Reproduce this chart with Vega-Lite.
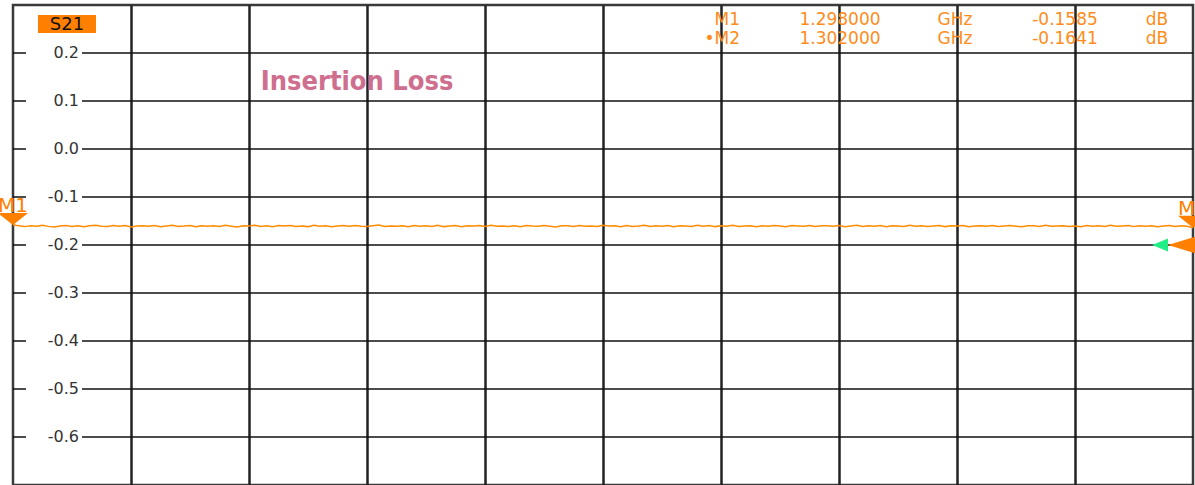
{
  "$schema": "https://vega.github.io/schema/vega-lite/v6.json",
  "width": 1180,
  "height": 480,
  "autosize": {"type": "none"},
  "padding": {"left": 13, "top": 5, "right": 2, "bottom": 0},
  "background": "white",
  "config": {"view": {"stroke": "#3a3a3a", "strokeWidth": 2.5}},
  "datasets": {
    "trace": [
      {"f":1298.00,"s":-0.1585},{"f":1298.02,"s":-0.1600},{"f":1298.04,"s":-0.1617},{"f":1298.06,"s":-0.1597},{"f":1298.08,"s":-0.1608},{"f":1298.10,"s":-0.1590},{"f":1298.12,"s":-0.1612},{"f":1298.14,"s":-0.1625},{"f":1298.16,"s":-0.1603},{"f":1298.18,"s":-0.1594},
      {"f":1298.20,"s":-0.1614},{"f":1298.22,"s":-0.1601},{"f":1298.24,"s":-0.1620},{"f":1298.26,"s":-0.1599},{"f":1298.28,"s":-0.1587},{"f":1298.30,"s":-0.1609},{"f":1298.32,"s":-0.1616},{"f":1298.34,"s":-0.1596},{"f":1298.36,"s":-0.1607},{"f":1298.38,"s":-0.1592},
      {"f":1298.40,"s":-0.1623},{"f":1298.42,"s":-0.1602},{"f":1298.44,"s":-0.1598},{"f":1298.46,"s":-0.1611},{"f":1298.48,"s":-0.1595},{"f":1298.50,"s":-0.1619},{"f":1298.52,"s":-0.1604},{"f":1298.54,"s":-0.1589},{"f":1298.56,"s":-0.1613},{"f":1298.58,"s":-0.1606},
      {"f":1298.60,"s":-0.1593},{"f":1298.62,"s":-0.1621},{"f":1298.64,"s":-0.1600},{"f":1298.66,"s":-0.1610},{"f":1298.68,"s":-0.1597},{"f":1298.70,"s":-0.1615},{"f":1298.72,"s":-0.1591},{"f":1298.74,"s":-0.1608},{"f":1298.76,"s":-0.1624},{"f":1298.78,"s":-0.1599},
      {"f":1298.80,"s":-0.1603},{"f":1298.82,"s":-0.1588},{"f":1298.84,"s":-0.1614},{"f":1298.86,"s":-0.1601},{"f":1298.88,"s":-0.1618},{"f":1298.90,"s":-0.1596},{"f":1298.92,"s":-0.1606},{"f":1298.94,"s":-0.1594},{"f":1298.96,"s":-0.1612},{"f":1298.98,"s":-0.1602},
      {"f":1299.00,"s":-0.1617},{"f":1299.02,"s":-0.1590},{"f":1299.04,"s":-0.1609},{"f":1299.06,"s":-0.1598},{"f":1299.08,"s":-0.1622},{"f":1299.10,"s":-0.1603},{"f":1299.12,"s":-0.1595},{"f":1299.14,"s":-0.1611},{"f":1299.16,"s":-0.1592},{"f":1299.18,"s":-0.1607},
      {"f":1299.20,"s":-0.1614},{"f":1299.22,"s":-0.1600},{"f":1299.24,"s":-0.1586},{"f":1299.26,"s":-0.1616},{"f":1299.28,"s":-0.1604},{"f":1299.30,"s":-0.1610},{"f":1299.32,"s":-0.1597},{"f":1299.34,"s":-0.1620},{"f":1299.36,"s":-0.1593},{"f":1299.38,"s":-0.1608},
      {"f":1299.40,"s":-0.1599},{"f":1299.42,"s":-0.1613},{"f":1299.44,"s":-0.1591},{"f":1299.46,"s":-0.1617},{"f":1299.48,"s":-0.1602},{"f":1299.50,"s":-0.1596},{"f":1299.52,"s":-0.1621},{"f":1299.54,"s":-0.1601},{"f":1299.56,"s":-0.1606},{"f":1299.58,"s":-0.1594},
      {"f":1299.60,"s":-0.1612},{"f":1299.62,"s":-0.1589},{"f":1299.64,"s":-0.1609},{"f":1299.66,"s":-0.1603},{"f":1299.68,"s":-0.1615},{"f":1299.70,"s":-0.1598},{"f":1299.72,"s":-0.1619},{"f":1299.74,"s":-0.1593},{"f":1299.76,"s":-0.1604},{"f":1299.78,"s":-0.1611},
      {"f":1299.80,"s":-0.1595},{"f":1299.82,"s":-0.1607},{"f":1299.84,"s":-0.1623},{"f":1299.86,"s":-0.1597},{"f":1299.88,"s":-0.1600},{"f":1299.90,"s":-0.1614},{"f":1299.92,"s":-0.1592},{"f":1299.94,"s":-0.1610},{"f":1299.96,"s":-0.1602},{"f":1299.98,"s":-0.1616},
      {"f":1300.00,"s":-0.1590},{"f":1300.02,"s":-0.1606},{"f":1300.04,"s":-0.1599},{"f":1300.06,"s":-0.1618},{"f":1300.08,"s":-0.1596},{"f":1300.10,"s":-0.1612},{"f":1300.12,"s":-0.1603},{"f":1300.14,"s":-0.1588},{"f":1300.16,"s":-0.1615},{"f":1300.18,"s":-0.1601},
      {"f":1300.20,"s":-0.1608},{"f":1300.22,"s":-0.1594},{"f":1300.24,"s":-0.1620},{"f":1300.26,"s":-0.1598},{"f":1300.28,"s":-0.1604},{"f":1300.30,"s":-0.1613},{"f":1300.32,"s":-0.1591},{"f":1300.34,"s":-0.1609},{"f":1300.36,"s":-0.1595},{"f":1300.38,"s":-0.1617},
      {"f":1300.40,"s":-0.1600},{"f":1300.42,"s":-0.1607},{"f":1300.44,"s":-0.1589},{"f":1300.46,"s":-0.1614},{"f":1300.48,"s":-0.1602},{"f":1300.50,"s":-0.1597},{"f":1300.52,"s":-0.1619},{"f":1300.54,"s":-0.1599},{"f":1300.56,"s":-0.1611},{"f":1300.58,"s":-0.1593},
      {"f":1300.60,"s":-0.1606},{"f":1300.62,"s":-0.1622},{"f":1300.64,"s":-0.1596},{"f":1300.66,"s":-0.1603},{"f":1300.68,"s":-0.1610},{"f":1300.70,"s":-0.1592},{"f":1300.72,"s":-0.1616},{"f":1300.74,"s":-0.1601},{"f":1300.76,"s":-0.1598},{"f":1300.78,"s":-0.1608},
      {"f":1300.80,"s":-0.1595},{"f":1300.82,"s":-0.1618},{"f":1300.84,"s":-0.1604},{"f":1300.86,"s":-0.1590},{"f":1300.88,"s":-0.1613},{"f":1300.90,"s":-0.1600},{"f":1300.92,"s":-0.1607},{"f":1300.94,"s":-0.1594},{"f":1300.96,"s":-0.1621},{"f":1300.98,"s":-0.1599},
      {"f":1301.00,"s":-0.1602},{"f":1301.02,"s":-0.1615},{"f":1301.04,"s":-0.1591},{"f":1301.06,"s":-0.1609},{"f":1301.08,"s":-0.1597},{"f":1301.10,"s":-0.1612},{"f":1301.12,"s":-0.1603},{"f":1301.14,"s":-0.1593},{"f":1301.16,"s":-0.1617},{"f":1301.18,"s":-0.1600},
      {"f":1301.20,"s":-0.1606},{"f":1301.22,"s":-0.1596},{"f":1301.24,"s":-0.1620},{"f":1301.26,"s":-0.1602},{"f":1301.28,"s":-0.1598},{"f":1301.30,"s":-0.1611},{"f":1301.32,"s":-0.1592},{"f":1301.34,"s":-0.1614},{"f":1301.36,"s":-0.1604},{"f":1301.38,"s":-0.1595},
      {"f":1301.40,"s":-0.1608},{"f":1301.42,"s":-0.1619},{"f":1301.44,"s":-0.1599},{"f":1301.46,"s":-0.1601},{"f":1301.48,"s":-0.1616},{"f":1301.50,"s":-0.1589},{"f":1301.52,"s":-0.1610},{"f":1301.54,"s":-0.1603},{"f":1301.56,"s":-0.1597},{"f":1301.58,"s":-0.1615},
      {"f":1301.60,"s":-0.1602},{"f":1301.62,"s":-0.1618},{"f":1301.64,"s":-0.1594},{"f":1301.66,"s":-0.1607},{"f":1301.68,"s":-0.1599},{"f":1301.70,"s":-0.1613},{"f":1301.72,"s":-0.1591},{"f":1301.74,"s":-0.1611},{"f":1301.76,"s":-0.1604},{"f":1301.78,"s":-0.1596},
      {"f":1301.80,"s":-0.1617},{"f":1301.82,"s":-0.1601},{"f":1301.84,"s":-0.1609},{"f":1301.86,"s":-0.1598},{"f":1301.88,"s":-0.1620},{"f":1301.90,"s":-0.1603},{"f":1301.92,"s":-0.1595},{"f":1301.94,"s":-0.1614},{"f":1301.96,"s":-0.1600},{"f":1301.98,"s":-0.1608},
      {"f":1302.00,"s":-0.1641}
    ],
    "yticks": [
      {"v":0.2,"lab":"0.2"},{"v":0.1,"lab":"0.1"},{"v":0.0,"lab":"0.0"},{"v":-0.1,"lab":"-0.1"},{"v":-0.2,"lab":"-0.2"},
      {"v":-0.3,"lab":"-0.3"},{"v":-0.4,"lab":"-0.4"},{"v":-0.5,"lab":"-0.5"},{"v":-0.6,"lab":"-0.6"}
    ],
    "markers": [
      {"mk":"M1","tag":"M1","f":1298,"s":-0.1585,"freq":"1.298000","funit":"GHz","val":"-0.1585","vunit":"dB"},
      {"mk":"M2","tag":"•M2","f":1302,"s":-0.1641,"freq":"1.302000","funit":"GHz","val":"-0.1641","vunit":"dB"}
    ]
  },
  "layer": [
    {
      "data": {"name": "yticks"},
      "mark": {"type": "rule", "color": "#111", "strokeWidth": 1.5},
      "encoding": {
        "y": {"field": "v", "type": "quantitative", "scale": {"domain": [-0.7, 0.3], "nice": false, "zero": false}, "axis": null},
        "x": {"datum": 1298, "type": "quantitative", "scale": {"domain": [1298, 1302], "nice": false, "zero": false}},
        "x2": {"datum": 1298.0440}
      }
    },
    {
      "data": {"name": "yticks"},
      "mark": {"type": "rule", "color": "#111", "strokeWidth": 1.5},
      "encoding": {
        "y": {"field": "v", "type": "quantitative"},
        "x": {"datum": 1298.2339, "type": "quantitative"},
        "x2": {"datum": 1302}
      }
    },
    {
      "data": {"name": "yticks"},
      "mark": {"type": "text", "align": "right", "baseline": "middle", "font": "DejaVu Sans", "fontSize": 16, "color": "#333"},
      "encoding": {
        "y": {"field": "v", "type": "quantitative"},
        "x": {"datum": 1298.2237, "type": "quantitative"},
        "text": {"field": "lab"}
      }
    },
    {
      "data": {"name": "trace"},
      "mark": {"type": "line", "color": "#FF8C00", "strokeWidth": 1.5, "interpolate": "linear"},
      "encoding": {
        "x": {"field": "f", "type": "quantitative", "axis": {"grid": true, "values": [1298.4, 1298.8, 1299.2, 1299.6, 1300, 1300.4, 1300.8, 1301.2, 1301.6], "labels": false, "ticks": false, "domain": false, "title": null, "gridColor": "#222", "gridWidth": 2.5, "gridOpacity": 1}},
        "y": {"field": "s", "type": "quantitative"}
      }
    },
    {
      "data": {"values": [{"param": "S21"}]},
      "mark": {"type": "rect", "color": "#FF8000"},
      "encoding": {
        "x": {"datum": 1298.0847, "type": "quantitative"},
        "x2": {"datum": 1298.2814},
        "y": {"datum": 0.2792, "type": "quantitative"},
        "y2": {"datum": 0.2417}
      }
    },
    {
      "data": {"values": [{"param": "S21"}]},
      "mark": {"type": "text", "align": "center", "baseline": "alphabetic", "font": "DejaVu Sans", "fontSize": 18, "color": "#111"},
      "encoding": {
        "x": {"datum": 1298.183, "type": "quantitative"},
        "y": {"datum": 0.2479, "type": "quantitative"},
        "text": {"field": "param"}
      }
    },
    {
      "data": {"values": [{"title": "Insertion Loss"}]},
      "mark": {"type": "text", "align": "center", "baseline": "alphabetic", "font": "Liberation Sans Narrow, DejaVu Sans Condensed, Liberation Sans", "fontWeight": "bold", "fontSize": 27, "color": "#CF6F8F"},
      "encoding": {
        "x": {"datum": 1299.1661, "type": "quantitative"},
        "y": {"datum": 0.1229, "type": "quantitative"},
        "text": {"field": "title"}
      }
    },
    {
      "data": {"name": "markers"},
      "mark": {"type": "point", "shape": "M-1,-0.8L1,-0.8L0,0Z", "size": 900, "filled": true, "opacity": 1, "color": "#FF8000", "strokeWidth": 0, "clip": false},
      "encoding": {
        "x": {"field": "f", "type": "quantitative"},
        "y": {"field": "s", "type": "quantitative"}
      }
    },
    {
      "data": {"name": "markers"},
      "mark": {"type": "text", "align": "center", "baseline": "alphabetic", "dy": -13, "font": "DejaVu Sans", "fontSize": 20, "color": "#FF8000"},
      "encoding": {
        "x": {"field": "f", "type": "quantitative"},
        "y": {"field": "s", "type": "quantitative"},
        "text": {"field": "mk"}
      }
    },
    {
      "data": {"values": [{"ref": -0.2}]},
      "mark": {"type": "point", "shape": "M-1,0L0.1,-0.34L0.1,0.34Z", "size": 2500, "filled": true, "opacity": 1, "color": "#FF8000", "strokeWidth": 0},
      "encoding": {
        "x": {"datum": 1302, "type": "quantitative"},
        "y": {"field": "ref", "type": "quantitative"}
      }
    },
    {
      "data": {"values": [{"ref": -0.2}]},
      "mark": {"type": "point", "shape": "M-1.64,0L-1,-0.26L-1,0.26Z", "size": 2500, "filled": true, "opacity": 1, "color": "#22EE88", "strokeWidth": 0},
      "encoding": {
        "x": {"datum": 1302, "type": "quantitative"},
        "y": {"field": "ref", "type": "quantitative"}
      }
    },
    {
      "data": {"name": "markers"},
      "transform": [{"filter": "datum.mk == 'M1'"}],
      "mark": {"type": "text", "align": "right", "baseline": "alphabetic", "font": "DejaVu Sans", "fontSize": 17, "color": "#FF8C1A"},
      "encoding": {"x": {"datum": 1300.4644, "type": "quantitative"}, "y": {"datum": 0.2583, "type": "quantitative"}, "text": {"field": "tag"}}
    },
    {
      "data": {"name": "markers"},
      "transform": [{"filter": "datum.mk == 'M1'"}],
      "mark": {"type": "text", "align": "center", "baseline": "alphabetic", "font": "DejaVu Sans", "fontSize": 17, "color": "#FF8C1A"},
      "encoding": {"x": {"datum": 1300.8034, "type": "quantitative"}, "y": {"datum": 0.2583, "type": "quantitative"}, "text": {"field": "freq"}}
    },
    {
      "data": {"name": "markers"},
      "transform": [{"filter": "datum.mk == 'M1'"}],
      "mark": {"type": "text", "align": "center", "baseline": "alphabetic", "font": "DejaVu Sans", "fontSize": 17, "color": "#FF8C1A"},
      "encoding": {"x": {"datum": 1301.1932, "type": "quantitative"}, "y": {"datum": 0.2583, "type": "quantitative"}, "text": {"field": "funit"}}
    },
    {
      "data": {"name": "markers"},
      "transform": [{"filter": "datum.mk == 'M1'"}],
      "mark": {"type": "text", "align": "center", "baseline": "alphabetic", "font": "DejaVu Sans", "fontSize": 17, "color": "#FF8C1A"},
      "encoding": {"x": {"datum": 1301.5661, "type": "quantitative"}, "y": {"datum": 0.2583, "type": "quantitative"}, "text": {"field": "val"}}
    },
    {
      "data": {"name": "markers"},
      "transform": [{"filter": "datum.mk == 'M1'"}],
      "mark": {"type": "text", "align": "center", "baseline": "alphabetic", "font": "DejaVu Sans", "fontSize": 17, "color": "#FF8C1A"},
      "encoding": {"x": {"datum": 1301.878, "type": "quantitative"}, "y": {"datum": 0.2583, "type": "quantitative"}, "text": {"field": "vunit"}}
    },
    {
      "data": {"name": "markers"},
      "transform": [{"filter": "datum.mk == 'M2'"}],
      "mark": {"type": "text", "align": "right", "baseline": "alphabetic", "font": "DejaVu Sans", "fontSize": 17, "color": "#FF8C1A"},
      "encoding": {"x": {"datum": 1300.4644, "type": "quantitative"}, "y": {"datum": 0.2188, "type": "quantitative"}, "text": {"field": "tag"}}
    },
    {
      "data": {"name": "markers"},
      "transform": [{"filter": "datum.mk == 'M2'"}],
      "mark": {"type": "text", "align": "center", "baseline": "alphabetic", "font": "DejaVu Sans", "fontSize": 17, "color": "#FF8C1A"},
      "encoding": {"x": {"datum": 1300.8034, "type": "quantitative"}, "y": {"datum": 0.2188, "type": "quantitative"}, "text": {"field": "freq"}}
    },
    {
      "data": {"name": "markers"},
      "transform": [{"filter": "datum.mk == 'M2'"}],
      "mark": {"type": "text", "align": "center", "baseline": "alphabetic", "font": "DejaVu Sans", "fontSize": 17, "color": "#FF8C1A"},
      "encoding": {"x": {"datum": 1301.1932, "type": "quantitative"}, "y": {"datum": 0.2188, "type": "quantitative"}, "text": {"field": "funit"}}
    },
    {
      "data": {"name": "markers"},
      "transform": [{"filter": "datum.mk == 'M2'"}],
      "mark": {"type": "text", "align": "center", "baseline": "alphabetic", "font": "DejaVu Sans", "fontSize": 17, "color": "#FF8C1A"},
      "encoding": {"x": {"datum": 1301.5661, "type": "quantitative"}, "y": {"datum": 0.2188, "type": "quantitative"}, "text": {"field": "val"}}
    },
    {
      "data": {"name": "markers"},
      "transform": [{"filter": "datum.mk == 'M2'"}],
      "mark": {"type": "text", "align": "center", "baseline": "alphabetic", "font": "DejaVu Sans", "fontSize": 17, "color": "#FF8C1A"},
      "encoding": {"x": {"datum": 1301.878, "type": "quantitative"}, "y": {"datum": 0.2188, "type": "quantitative"}, "text": {"field": "vunit"}}
    }
  ]
}
